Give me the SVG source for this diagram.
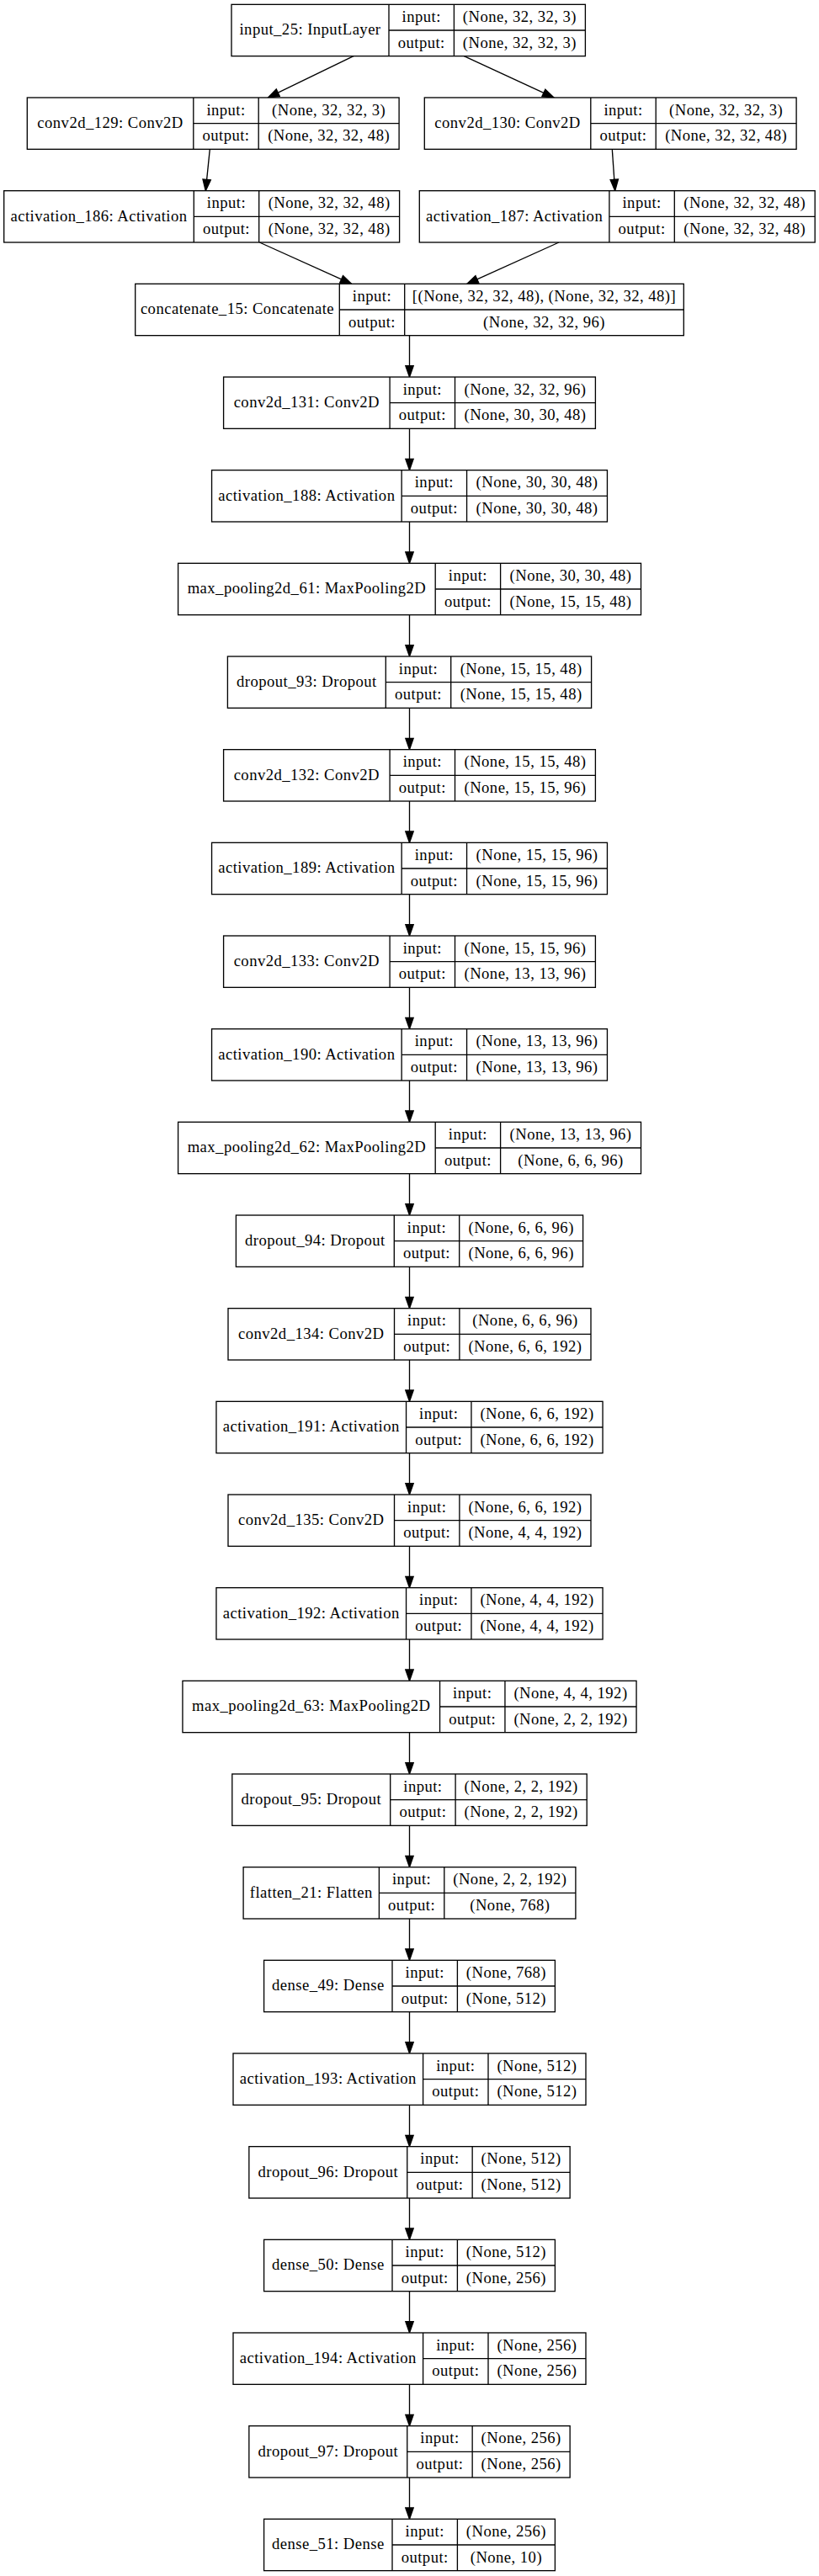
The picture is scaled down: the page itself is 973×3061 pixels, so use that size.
<svg xmlns="http://www.w3.org/2000/svg" width="973" height="3061" viewBox="0 0 973 3061">
<style>
.n rect{fill:#fff;stroke:#000;stroke-width:1.33}
.n line{stroke:#000;stroke-width:1.33}
.n text{font-family:"Liberation Serif","Times New Roman",serif;font-size:18.67px;text-anchor:middle;fill:#000;letter-spacing:0.45px}
#edges line{stroke:#000;stroke-width:1.33;fill:none;marker-end:url(#ah)}
</style>
<defs>
<marker id="ah" markerUnits="userSpaceOnUse" markerWidth="16" markerHeight="12" viewBox="-1 -6 16 12" refX="0" refY="0" orient="auto">
<path d="M0,-4.67L13.33,0L0,4.67Z" fill="#000" stroke="#000" stroke-width="1.33"/>
</marker>
</defs>
<rect x="0" y="0" width="973" height="3061" fill="#fff"/>
<g id="edges">
<line x1="420" y1="66.67" x2="330.3" y2="110.2"/>
<line x1="551.3" y1="66.67" x2="645.9" y2="110.4"/>
<line x1="249.3" y1="177.33" x2="245.64" y2="213.4"/>
<line x1="727.3" y1="177.33" x2="729.78" y2="213.37"/>
<line x1="308.3" y1="288" x2="405.55" y2="331.85"/>
<line x1="664" y1="288" x2="566.85" y2="331.85"/>
<line x1="486.5" y1="398.67" x2="486.5" y2="434.67"/>
<line x1="486.5" y1="509.33" x2="486.5" y2="545.33"/>
<line x1="486.5" y1="620" x2="486.5" y2="656"/>
<line x1="486.5" y1="730.67" x2="486.5" y2="766.67"/>
<line x1="486.5" y1="841.33" x2="486.5" y2="877.33"/>
<line x1="486.5" y1="952" x2="486.5" y2="988"/>
<line x1="486.5" y1="1062.67" x2="486.5" y2="1098.67"/>
<line x1="486.5" y1="1173.33" x2="486.5" y2="1209.33"/>
<line x1="486.5" y1="1284" x2="486.5" y2="1320"/>
<line x1="486.5" y1="1394.67" x2="486.5" y2="1430.67"/>
<line x1="486.5" y1="1505.33" x2="486.5" y2="1541.33"/>
<line x1="486.5" y1="1616" x2="486.5" y2="1652"/>
<line x1="486.5" y1="1726.67" x2="486.5" y2="1762.67"/>
<line x1="486.5" y1="1837.33" x2="486.5" y2="1873.33"/>
<line x1="486.5" y1="1948" x2="486.5" y2="1984"/>
<line x1="486.5" y1="2058.67" x2="486.5" y2="2094.67"/>
<line x1="486.5" y1="2169.33" x2="486.5" y2="2205.33"/>
<line x1="486.5" y1="2280" x2="486.5" y2="2316"/>
<line x1="486.5" y1="2390.67" x2="486.5" y2="2426.67"/>
<line x1="486.5" y1="2501.33" x2="486.5" y2="2537.33"/>
<line x1="486.5" y1="2612" x2="486.5" y2="2648"/>
<line x1="486.5" y1="2722.67" x2="486.5" y2="2758.67"/>
<line x1="486.5" y1="2833.33" x2="486.5" y2="2869.33"/>
<line x1="486.5" y1="2944" x2="486.5" y2="2980"/>
</g>

<g id="input_25" class="n" transform="translate(275,5.33)">
<rect width="420.4" height="61.33"/><line x1="187" y1="0" x2="187" y2="61.33"/><line x1="264.4" y1="0" x2="264.4" y2="61.33"/><line x1="187" y1="30.67" x2="420.4" y2="30.67"/>
<text x="93.5" y="35.87">input_25: InputLayer</text><text x="225.7" y="20.53">input:</text><text x="225.7" y="51.2">output:</text><text x="342.4" y="20.53">(None, 32, 32, 3)</text><text x="342.4" y="51.2">(None, 32, 32, 3)</text>
</g>

<g id="conv2d_129" class="n" transform="translate(32.3,116)">
<rect width="441.8" height="61.33"/><line x1="197.5" y1="0" x2="197.5" y2="61.33"/><line x1="274.9" y1="0" x2="274.9" y2="61.33"/><line x1="197.5" y1="30.67" x2="441.8" y2="30.67"/>
<text x="98.75" y="35.87">conv2d_129: Conv2D</text><text x="236.2" y="20.53">input:</text><text x="236.2" y="51.2">output:</text><text x="358.35" y="20.53">(None, 32, 32, 3)</text><text x="358.35" y="51.2">(None, 32, 32, 48)</text>
</g>

<g id="conv2d_130" class="n" transform="translate(504.3,116)">
<rect width="441.8" height="61.33"/><line x1="197.5" y1="0" x2="197.5" y2="61.33"/><line x1="274.9" y1="0" x2="274.9" y2="61.33"/><line x1="197.5" y1="30.67" x2="441.8" y2="30.67"/>
<text x="98.75" y="35.87">conv2d_130: Conv2D</text><text x="236.2" y="20.53">input:</text><text x="236.2" y="51.2">output:</text><text x="358.35" y="20.53">(None, 32, 32, 3)</text><text x="358.35" y="51.2">(None, 32, 32, 48)</text>
</g>

<g id="activation_186" class="n" transform="translate(4.7,226.67)">
<rect width="469.9" height="61.33"/><line x1="225.6" y1="0" x2="225.6" y2="61.33"/><line x1="303" y1="0" x2="303" y2="61.33"/><line x1="225.6" y1="30.67" x2="469.9" y2="30.67"/>
<text x="112.8" y="35.87">activation_186: Activation</text><text x="264.3" y="20.53">input:</text><text x="264.3" y="51.2">output:</text><text x="386.45" y="20.53">(None, 32, 32, 48)</text><text x="386.45" y="51.2">(None, 32, 32, 48)</text>
</g>

<g id="activation_187" class="n" transform="translate(498.3,226.67)">
<rect width="469.9" height="61.33"/><line x1="225.6" y1="0" x2="225.6" y2="61.33"/><line x1="303" y1="0" x2="303" y2="61.33"/><line x1="225.6" y1="30.67" x2="469.9" y2="30.67"/>
<text x="112.8" y="35.87">activation_187: Activation</text><text x="264.3" y="20.53">input:</text><text x="264.3" y="51.2">output:</text><text x="386.45" y="20.53">(None, 32, 32, 48)</text><text x="386.45" y="51.2">(None, 32, 32, 48)</text>
</g>

<g id="concatenate_15" class="n" transform="translate(160.7,337.33)">
<rect width="651.6" height="61.33"/><line x1="242.6" y1="0" x2="242.6" y2="61.33"/><line x1="320" y1="0" x2="320" y2="61.33"/><line x1="242.6" y1="30.67" x2="651.6" y2="30.67"/>
<text x="121.3" y="35.87">concatenate_15: Concatenate</text><text x="281.3" y="20.53">input:</text><text x="281.3" y="51.2">output:</text><text x="485.8" y="20.53">[(None, 32, 32, 48), (None, 32, 32, 48)]</text><text x="485.8" y="51.2">(None, 32, 32, 96)</text>
</g>

<g id="conv2d_131" class="n" transform="translate(265.6,448)">
<rect width="441.8" height="61.33"/><line x1="197.5" y1="0" x2="197.5" y2="61.33"/><line x1="274.9" y1="0" x2="274.9" y2="61.33"/><line x1="197.5" y1="30.67" x2="441.8" y2="30.67"/>
<text x="98.75" y="35.87">conv2d_131: Conv2D</text><text x="236.2" y="20.53">input:</text><text x="236.2" y="51.2">output:</text><text x="358.35" y="20.53">(None, 32, 32, 96)</text><text x="358.35" y="51.2">(None, 30, 30, 48)</text>
</g>

<g id="activation_188" class="n" transform="translate(251.55,558.67)">
<rect width="469.9" height="61.33"/><line x1="225.6" y1="0" x2="225.6" y2="61.33"/><line x1="303" y1="0" x2="303" y2="61.33"/><line x1="225.6" y1="30.67" x2="469.9" y2="30.67"/>
<text x="112.8" y="35.87">activation_188: Activation</text><text x="264.3" y="20.53">input:</text><text x="264.3" y="51.2">output:</text><text x="386.45" y="20.53">(None, 30, 30, 48)</text><text x="386.45" y="51.2">(None, 30, 30, 48)</text>
</g>

<g id="max_pooling2d_61" class="n" transform="translate(211.6,669.33)">
<rect width="549.9" height="61.33"/><line x1="305.6" y1="0" x2="305.6" y2="61.33"/><line x1="383" y1="0" x2="383" y2="61.33"/><line x1="305.6" y1="30.67" x2="549.9" y2="30.67"/>
<text x="152.8" y="35.87">max_pooling2d_61: MaxPooling2D</text><text x="344.3" y="20.53">input:</text><text x="344.3" y="51.2">output:</text><text x="466.45" y="20.53">(None, 30, 30, 48)</text><text x="466.45" y="51.2">(None, 15, 15, 48)</text>
</g>

<g id="dropout_93" class="n" transform="translate(270.4,780)">
<rect width="432.2" height="61.33"/><line x1="187.9" y1="0" x2="187.9" y2="61.33"/><line x1="265.3" y1="0" x2="265.3" y2="61.33"/><line x1="187.9" y1="30.67" x2="432.2" y2="30.67"/>
<text x="93.95" y="35.87">dropout_93: Dropout</text><text x="226.6" y="20.53">input:</text><text x="226.6" y="51.2">output:</text><text x="348.75" y="20.53">(None, 15, 15, 48)</text><text x="348.75" y="51.2">(None, 15, 15, 48)</text>
</g>

<g id="conv2d_132" class="n" transform="translate(265.6,890.67)">
<rect width="441.8" height="61.33"/><line x1="197.5" y1="0" x2="197.5" y2="61.33"/><line x1="274.9" y1="0" x2="274.9" y2="61.33"/><line x1="197.5" y1="30.67" x2="441.8" y2="30.67"/>
<text x="98.75" y="35.87">conv2d_132: Conv2D</text><text x="236.2" y="20.53">input:</text><text x="236.2" y="51.2">output:</text><text x="358.35" y="20.53">(None, 15, 15, 48)</text><text x="358.35" y="51.2">(None, 15, 15, 96)</text>
</g>

<g id="activation_189" class="n" transform="translate(251.55,1001.33)">
<rect width="469.9" height="61.33"/><line x1="225.6" y1="0" x2="225.6" y2="61.33"/><line x1="303" y1="0" x2="303" y2="61.33"/><line x1="225.6" y1="30.67" x2="469.9" y2="30.67"/>
<text x="112.8" y="35.87">activation_189: Activation</text><text x="264.3" y="20.53">input:</text><text x="264.3" y="51.2">output:</text><text x="386.45" y="20.53">(None, 15, 15, 96)</text><text x="386.45" y="51.2">(None, 15, 15, 96)</text>
</g>

<g id="conv2d_133" class="n" transform="translate(265.6,1112)">
<rect width="441.8" height="61.33"/><line x1="197.5" y1="0" x2="197.5" y2="61.33"/><line x1="274.9" y1="0" x2="274.9" y2="61.33"/><line x1="197.5" y1="30.67" x2="441.8" y2="30.67"/>
<text x="98.75" y="35.87">conv2d_133: Conv2D</text><text x="236.2" y="20.53">input:</text><text x="236.2" y="51.2">output:</text><text x="358.35" y="20.53">(None, 15, 15, 96)</text><text x="358.35" y="51.2">(None, 13, 13, 96)</text>
</g>

<g id="activation_190" class="n" transform="translate(251.55,1222.67)">
<rect width="469.9" height="61.33"/><line x1="225.6" y1="0" x2="225.6" y2="61.33"/><line x1="303" y1="0" x2="303" y2="61.33"/><line x1="225.6" y1="30.67" x2="469.9" y2="30.67"/>
<text x="112.8" y="35.87">activation_190: Activation</text><text x="264.3" y="20.53">input:</text><text x="264.3" y="51.2">output:</text><text x="386.45" y="20.53">(None, 13, 13, 96)</text><text x="386.45" y="51.2">(None, 13, 13, 96)</text>
</g>

<g id="max_pooling2d_62" class="n" transform="translate(211.6,1333.33)">
<rect width="549.9" height="61.33"/><line x1="305.6" y1="0" x2="305.6" y2="61.33"/><line x1="383" y1="0" x2="383" y2="61.33"/><line x1="305.6" y1="30.67" x2="549.9" y2="30.67"/>
<text x="152.8" y="35.87">max_pooling2d_62: MaxPooling2D</text><text x="344.3" y="20.53">input:</text><text x="344.3" y="51.2">output:</text><text x="466.45" y="20.53">(None, 13, 13, 96)</text><text x="466.45" y="51.2">(None, 6, 6, 96)</text>
</g>

<g id="dropout_94" class="n" transform="translate(280.4,1444)">
<rect width="412.2" height="61.33"/><line x1="187.9" y1="0" x2="187.9" y2="61.33"/><line x1="265.3" y1="0" x2="265.3" y2="61.33"/><line x1="187.9" y1="30.67" x2="412.2" y2="30.67"/>
<text x="93.95" y="35.87">dropout_94: Dropout</text><text x="226.6" y="20.53">input:</text><text x="226.6" y="51.2">output:</text><text x="338.75" y="20.53">(None, 6, 6, 96)</text><text x="338.75" y="51.2">(None, 6, 6, 96)</text>
</g>

<g id="conv2d_134" class="n" transform="translate(271,1554.67)">
<rect width="431" height="61.33"/><line x1="197.5" y1="0" x2="197.5" y2="61.33"/><line x1="274.9" y1="0" x2="274.9" y2="61.33"/><line x1="197.5" y1="30.67" x2="431" y2="30.67"/>
<text x="98.75" y="35.87">conv2d_134: Conv2D</text><text x="236.2" y="20.53">input:</text><text x="236.2" y="51.2">output:</text><text x="352.95" y="20.53">(None, 6, 6, 96)</text><text x="352.95" y="51.2">(None, 6, 6, 192)</text>
</g>

<g id="activation_191" class="n" transform="translate(256.95,1665.33)">
<rect width="459.1" height="61.33"/><line x1="225.6" y1="0" x2="225.6" y2="61.33"/><line x1="303" y1="0" x2="303" y2="61.33"/><line x1="225.6" y1="30.67" x2="459.1" y2="30.67"/>
<text x="112.8" y="35.87">activation_191: Activation</text><text x="264.3" y="20.53">input:</text><text x="264.3" y="51.2">output:</text><text x="381.05" y="20.53">(None, 6, 6, 192)</text><text x="381.05" y="51.2">(None, 6, 6, 192)</text>
</g>

<g id="conv2d_135" class="n" transform="translate(271,1776)">
<rect width="431" height="61.33"/><line x1="197.5" y1="0" x2="197.5" y2="61.33"/><line x1="274.9" y1="0" x2="274.9" y2="61.33"/><line x1="197.5" y1="30.67" x2="431" y2="30.67"/>
<text x="98.75" y="35.87">conv2d_135: Conv2D</text><text x="236.2" y="20.53">input:</text><text x="236.2" y="51.2">output:</text><text x="352.95" y="20.53">(None, 6, 6, 192)</text><text x="352.95" y="51.2">(None, 4, 4, 192)</text>
</g>

<g id="activation_192" class="n" transform="translate(256.95,1886.67)">
<rect width="459.1" height="61.33"/><line x1="225.6" y1="0" x2="225.6" y2="61.33"/><line x1="303" y1="0" x2="303" y2="61.33"/><line x1="225.6" y1="30.67" x2="459.1" y2="30.67"/>
<text x="112.8" y="35.87">activation_192: Activation</text><text x="264.3" y="20.53">input:</text><text x="264.3" y="51.2">output:</text><text x="381.05" y="20.53">(None, 4, 4, 192)</text><text x="381.05" y="51.2">(None, 4, 4, 192)</text>
</g>

<g id="max_pooling2d_63" class="n" transform="translate(216.95,1997.33)">
<rect width="539.1" height="61.33"/><line x1="305.6" y1="0" x2="305.6" y2="61.33"/><line x1="383" y1="0" x2="383" y2="61.33"/><line x1="305.6" y1="30.67" x2="539.1" y2="30.67"/>
<text x="152.8" y="35.87">max_pooling2d_63: MaxPooling2D</text><text x="344.3" y="20.53">input:</text><text x="344.3" y="51.2">output:</text><text x="461.05" y="20.53">(None, 4, 4, 192)</text><text x="461.05" y="51.2">(None, 2, 2, 192)</text>
</g>

<g id="dropout_95" class="n" transform="translate(275.8,2108)">
<rect width="421.4" height="61.33"/><line x1="187.9" y1="0" x2="187.9" y2="61.33"/><line x1="265.3" y1="0" x2="265.3" y2="61.33"/><line x1="187.9" y1="30.67" x2="421.4" y2="30.67"/>
<text x="93.95" y="35.87">dropout_95: Dropout</text><text x="226.6" y="20.53">input:</text><text x="226.6" y="51.2">output:</text><text x="343.35" y="20.53">(None, 2, 2, 192)</text><text x="343.35" y="51.2">(None, 2, 2, 192)</text>
</g>

<g id="flatten_21" class="n" transform="translate(289.1,2218.67)">
<rect width="394.8" height="61.33"/><line x1="161.3" y1="0" x2="161.3" y2="61.33"/><line x1="238.7" y1="0" x2="238.7" y2="61.33"/><line x1="161.3" y1="30.67" x2="394.8" y2="30.67"/>
<text x="80.65" y="35.87">flatten_21: Flatten</text><text x="200" y="20.53">input:</text><text x="200" y="51.2">output:</text><text x="316.75" y="20.53">(None, 2, 2, 192)</text><text x="316.75" y="51.2">(None, 768)</text>
</g>

<g id="dense_49" class="n" transform="translate(313.6,2329.33)">
<rect width="345.8" height="61.33"/><line x1="152.4" y1="0" x2="152.4" y2="61.33"/><line x1="229.8" y1="0" x2="229.8" y2="61.33"/><line x1="152.4" y1="30.67" x2="345.8" y2="30.67"/>
<text x="76.2" y="35.87">dense_49: Dense</text><text x="191.1" y="20.53">input:</text><text x="191.1" y="51.2">output:</text><text x="287.8" y="20.53">(None, 768)</text><text x="287.8" y="51.2">(None, 512)</text>
</g>

<g id="activation_193" class="n" transform="translate(277,2440)">
<rect width="419" height="61.33"/><line x1="225.6" y1="0" x2="225.6" y2="61.33"/><line x1="303" y1="0" x2="303" y2="61.33"/><line x1="225.6" y1="30.67" x2="419" y2="30.67"/>
<text x="112.8" y="35.87">activation_193: Activation</text><text x="264.3" y="20.53">input:</text><text x="264.3" y="51.2">output:</text><text x="361" y="20.53">(None, 512)</text><text x="361" y="51.2">(None, 512)</text>
</g>

<g id="dropout_96" class="n" transform="translate(295.85,2550.67)">
<rect width="381.3" height="61.33"/><line x1="187.9" y1="0" x2="187.9" y2="61.33"/><line x1="265.3" y1="0" x2="265.3" y2="61.33"/><line x1="187.9" y1="30.67" x2="381.3" y2="30.67"/>
<text x="93.95" y="35.87">dropout_96: Dropout</text><text x="226.6" y="20.53">input:</text><text x="226.6" y="51.2">output:</text><text x="323.3" y="20.53">(None, 512)</text><text x="323.3" y="51.2">(None, 512)</text>
</g>

<g id="dense_50" class="n" transform="translate(313.6,2661.33)">
<rect width="345.8" height="61.33"/><line x1="152.4" y1="0" x2="152.4" y2="61.33"/><line x1="229.8" y1="0" x2="229.8" y2="61.33"/><line x1="152.4" y1="30.67" x2="345.8" y2="30.67"/>
<text x="76.2" y="35.87">dense_50: Dense</text><text x="191.1" y="20.53">input:</text><text x="191.1" y="51.2">output:</text><text x="287.8" y="20.53">(None, 512)</text><text x="287.8" y="51.2">(None, 256)</text>
</g>

<g id="activation_194" class="n" transform="translate(277,2772)">
<rect width="419" height="61.33"/><line x1="225.6" y1="0" x2="225.6" y2="61.33"/><line x1="303" y1="0" x2="303" y2="61.33"/><line x1="225.6" y1="30.67" x2="419" y2="30.67"/>
<text x="112.8" y="35.87">activation_194: Activation</text><text x="264.3" y="20.53">input:</text><text x="264.3" y="51.2">output:</text><text x="361" y="20.53">(None, 256)</text><text x="361" y="51.2">(None, 256)</text>
</g>

<g id="dropout_97" class="n" transform="translate(295.85,2882.67)">
<rect width="381.3" height="61.33"/><line x1="187.9" y1="0" x2="187.9" y2="61.33"/><line x1="265.3" y1="0" x2="265.3" y2="61.33"/><line x1="187.9" y1="30.67" x2="381.3" y2="30.67"/>
<text x="93.95" y="35.87">dropout_97: Dropout</text><text x="226.6" y="20.53">input:</text><text x="226.6" y="51.2">output:</text><text x="323.3" y="20.53">(None, 256)</text><text x="323.3" y="51.2">(None, 256)</text>
</g>

<g id="dense_51" class="n" transform="translate(313.6,2993.33)">
<rect width="345.8" height="61.33"/><line x1="152.4" y1="0" x2="152.4" y2="61.33"/><line x1="229.8" y1="0" x2="229.8" y2="61.33"/><line x1="152.4" y1="30.67" x2="345.8" y2="30.67"/>
<text x="76.2" y="35.87">dense_51: Dense</text><text x="191.1" y="20.53">input:</text><text x="191.1" y="51.2">output:</text><text x="287.8" y="20.53">(None, 256)</text><text x="287.8" y="51.2">(None, 10)</text>
</g>
</svg>
